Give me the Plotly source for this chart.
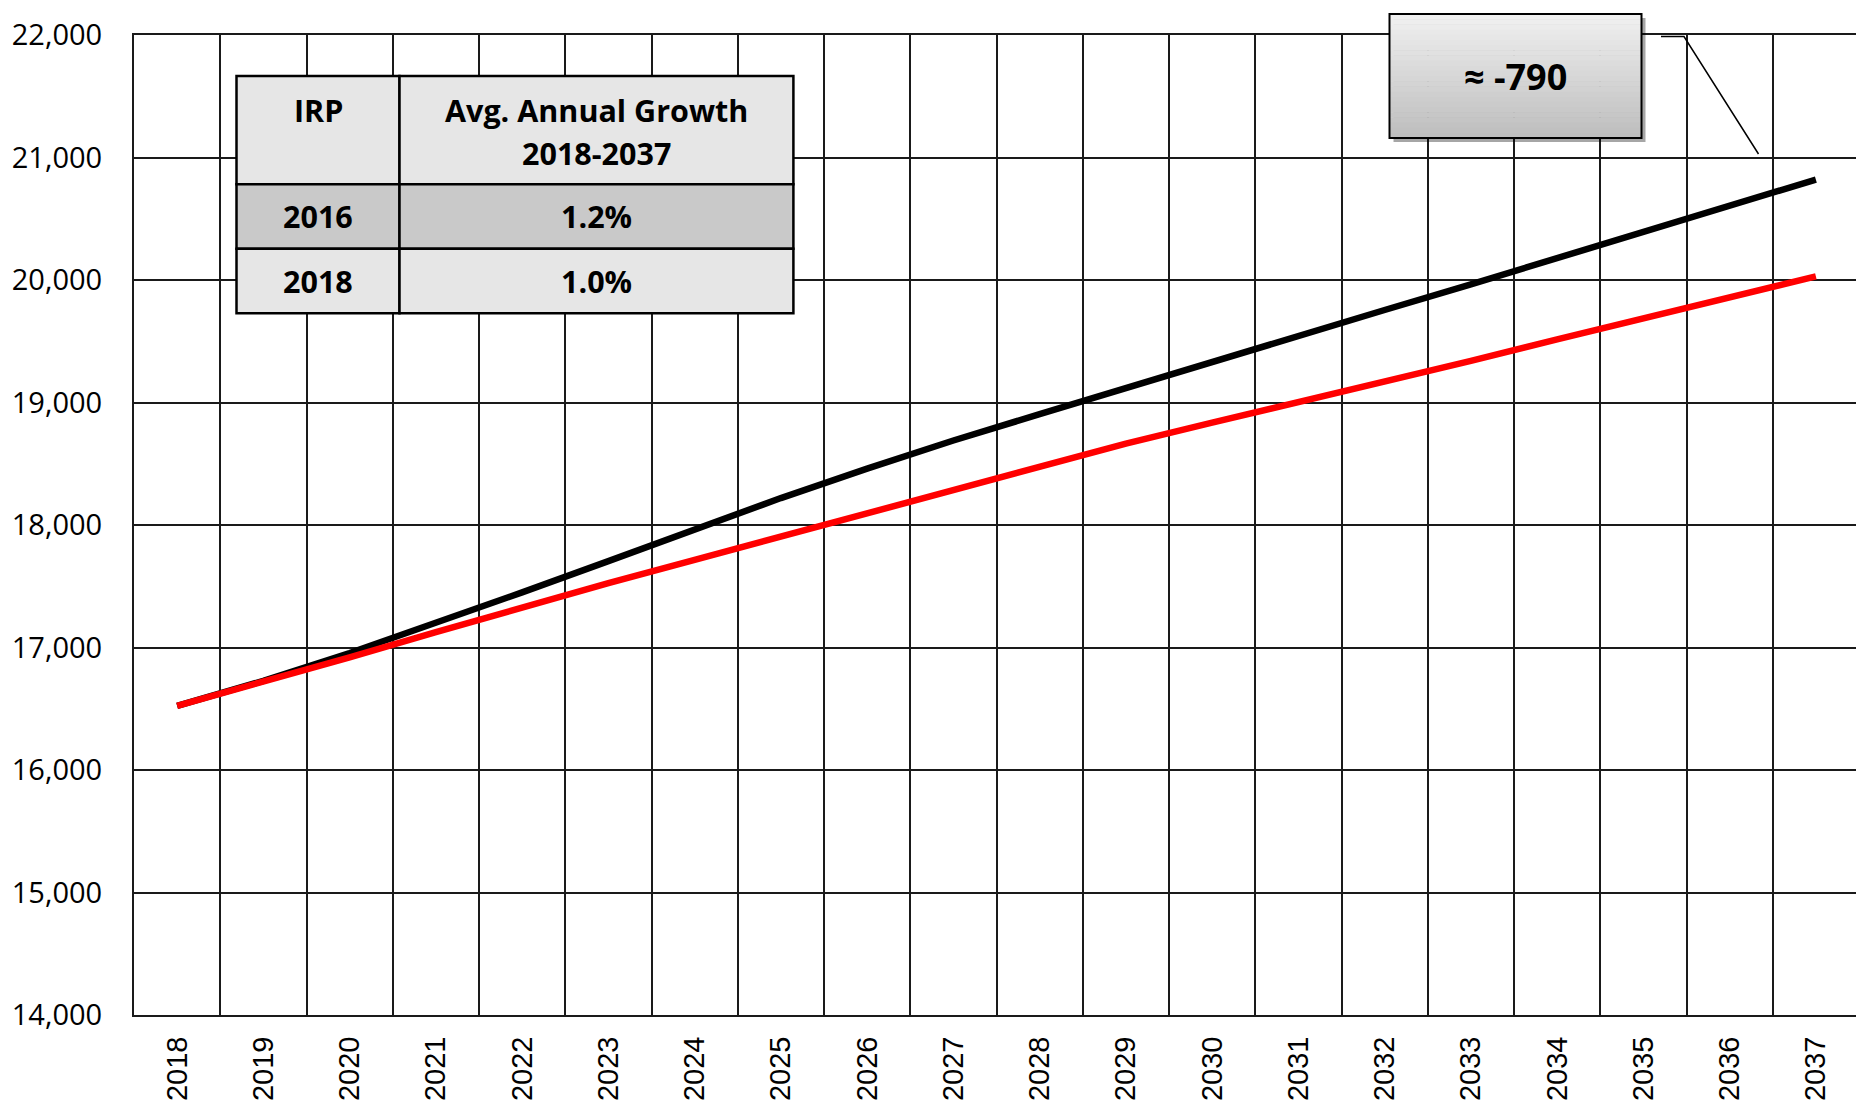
import plotly.graph_objects as go

# ---------------- data ----------------
years = [str(y) for y in range(2018, 2038)]
irp_2016 = [16524, 16728, 16955, 17200, 17450, 17705, 17965, 18220, 18460, 18690,
            18905, 19120, 19335, 19545, 19755, 19965, 20180, 20395, 20610, 20820]
irp_2018 = [16524, 16718, 16920, 17125, 17330, 17525, 17715, 17905, 18100, 18295,
            18485, 18665, 18835, 19000, 19170, 19340, 19515, 19690, 19860, 20030]
y_ticks = [14000, 15000, 16000, 17000, 18000, 19000, 20000, 21000, 22000]

table_header = ["IRP", "Avg. Annual Growth", "2018-2037"]
table_irp = ["2016", "2018"]
table_growth = ["1.2%", "1.0%"]

diff = int(round((irp_2018[-1] - irp_2016[-1]) / 10.0)) * 10
diff_label = f"≈ {diff}"

# ---------------- layout helpers ----------------
OFF = 8                      # default page body margin
PL, PR, PT, PB = 134, 1859, 35, 1015   # plot area in page pixels
W, H = 1864 - OFF, 1110 - OFF
ML, MT = PL - OFF, PT - OFF
PW, PH = PR - PL, PB - PT
MR, MB = W - ML - PW, H - MT - PH


def px(x):
    return (x - PL) / PW


def py(y):
    return (PB - y) / PH


FONT = "Open Sans, Roboto, sans-serif"

fig = go.Figure()
fig.add_trace(go.Scatter(x=years, y=irp_2016, mode="lines", name="2016 IRP",
                         line=dict(color="#000000", width=6.5)))
fig.add_trace(go.Scatter(x=years, y=irp_2018, mode="lines", name="2018 IRP",
                         line=dict(color="#ff0000", width=6.5)))

shapes = []

# ---- table ----
tl, tc, tr = 236.5, 399.5, 793.4
tt, r1, r2, tb = 76, 184.3, 248.7, 313.3
cells = [
    (tl, tt, tc, r1, "#e6e6e6"), (tc, tt, tr, r1, "#e6e6e6"),
    (tl, r1, tc, r2, "#c9c9c9"), (tc, r1, tr, r2, "#c9c9c9"),
    (tl, r2, tc, tb, "#e6e6e6"), (tc, r2, tr, tb, "#e6e6e6"),
]
for x0, y0, x1, y1, c in cells:
    shapes.append(dict(type="rect", xref="paper", yref="paper",
                       x0=px(x0), x1=px(x1), y0=py(y1), y1=py(y0),
                       fillcolor=c, line=dict(color="#000000", width=2.5),
                       layer="above"))

annotations = []


def txt(t, x, y, size, bold=True):
    annotations.append(dict(text=t, xref="paper", yref="paper", x=px(x), y=py(y),
                            xanchor="center", yanchor="middle", showarrow=False,
                            font=dict(family=FONT, size=size, color="#000000",
                                      weight="bold" if bold else "normal")))


txt(table_header[0], (tl + tc) / 2, 110, 30.5)
txt(table_header[1], (tc + tr) / 2, 110, 30.5)
txt(table_header[2], (tc + tr) / 2, 153, 30.5)
for i, (a, b) in enumerate(zip(table_irp, table_growth)):
    yc = [(r1 + r2) / 2, (r2 + tb) / 2][i]
    txt(a, (tl + tc) / 2, yc, 30.5)
    txt(b, (tc + tr) / 2, yc, 30.5)

# ---- callout box with gradient ----
bx0, bx1, by0, by1 = 1389.5, 1641.5, 14, 138
shapes.append(dict(type="rect", xref="paper", yref="paper",
                   x0=px(bx0 + 4), x1=px(bx1 + 4), y0=py(by1 + 4), y1=py(by0 + 4),
                   fillcolor="rgba(0,0,0,0.35)", line=dict(width=0), layer="above"))
n = 24
c_top, c_bot = (240, 240, 240), (190, 190, 190)
for i in range(n):
    f = i / (n - 1)
    c = tuple(int(round(c_top[k] + (c_bot[k] - c_top[k]) * f)) for k in range(3))
    ya = by0 + (by1 - by0) * i / n
    yb = by0 + (by1 - by0) * (i + 1) / n
    shapes.append(dict(type="rect", xref="paper", yref="paper",
                       x0=px(bx0), x1=px(bx1), y0=py(yb + 0.5), y1=py(ya),
                       fillcolor="rgb(%d,%d,%d)" % c, line=dict(width=0),
                       layer="above"))
shapes.append(dict(type="rect", xref="paper", yref="paper",
                   x0=px(bx0), x1=px(bx1), y0=py(by1), y1=py(by0),
                   fillcolor="rgba(0,0,0,0)", line=dict(color="#000000", width=2),
                   layer="above"))
txt(diff_label, (bx0 + bx1) / 2, 77, 36)

# leader line
shapes.append(dict(type="path", xref="paper", yref="paper",
                   path="M %f,%f L %f,%f L %f,%f" % (px(1661), py(36.5), px(1684), py(36.5),
                                                      px(1758.5), py(154)),
                   line=dict(color="#000000", width=1.5), layer="above"))

fig.update_layout(
    width=W, height=H,
    margin=dict(l=ML, r=MR, t=MT, b=MB, pad=0, autoexpand=False),
    paper_bgcolor="#ffffff", plot_bgcolor="#ffffff",
    showlegend=False,
    shapes=shapes, annotations=annotations,
    font=dict(family=FONT, color="#000000"),
)
fig.update_xaxes(
    type="category", tickson="boundaries", tickangle=-90, automargin=False,
    showgrid=True, gridcolor="#1a1a1a", gridwidth=1.5,
    showline=True, mirror=True, linecolor="#1a1a1a", linewidth=2,
    ticks="", ticklabelstandoff=8,
    tickfont=dict(family="Liberation Sans, Arial, sans-serif", size=29, color="#000000"),
    range=[-0.5, 19.5],
)
fig.update_yaxes(
    range=[14000, 22000], tickvals=y_ticks, tickformat=",", automargin=False,
    showgrid=True, gridcolor="#1a1a1a", gridwidth=1.5,
    showline=True, mirror=True, linecolor="#1a1a1a", linewidth=2,
    ticks="", ticklabelstandoff=24, zeroline=False,
    tickfont=dict(family=FONT, size=29, color="#000000"),
)

fig.write_html("out.html")
